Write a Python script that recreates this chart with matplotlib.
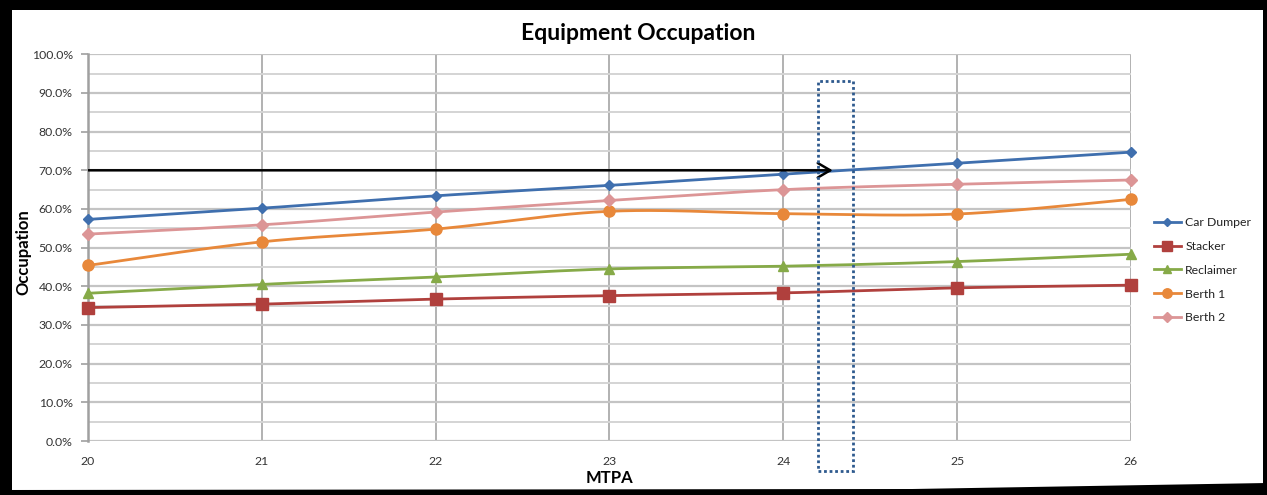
import numpy as np
import matplotlib
matplotlib.use("Agg")
import matplotlib.pyplot as plt
from matplotlib.patches import Rectangle, FancyArrowPatch, Polygon
from matplotlib.lines import Line2D
from matplotlib.ticker import MultipleLocator, FuncFormatter

plt.rcParams['font.family'] = ['Lato', 'DejaVu Sans']

# MTPA throughput levels and occupation (%) for each piece of equipment
mtpa = [20, 21, 22, 23, 24, 25, 26]
car_dumper = [57.3, 60.2, 63.4, 66.1, 69.0, 71.8, 74.7]
stacker = [34.5, 35.4, 36.7, 37.6, 38.3, 39.6, 40.3]
reclaimer = [38.2, 40.5, 42.4, 44.5, 45.2, 46.4, 48.3]
berth_1 = [45.4, 51.5, 54.8, 59.4, 58.8, 58.7, 62.5]
berth_2 = [53.5, 55.9, 59.2, 62.2, 65.0, 66.4, 67.5]

series_names = ["Car Dumper", "Stacker", "Reclaimer", "Berth 1", "Berth 2"]
series_values = [car_dumper, stacker, reclaimer, berth_1, berth_2]
colors = ["#3F6FAE", "#B0403D", "#86AA48", "#E8883A", "#DC9596"]
markers = ["D", "s", "^", "o", "D"]
marker_sizes = [5, 8, 7, 8, 6]

target_level = 70.0
highlight_x = (24.2, 24.4)
highlight_y = (-7.8, 93.2)


def smooth_curve(x, y, n=40, tension=0.5):
    """Cardinal-spline curve through the points (Excel-style smoothed line)."""
    x = np.asarray(x, float)
    y = np.asarray(y, float)
    px = np.concatenate([[x[0]], x, [x[-1]]])
    py = np.concatenate([[y[0]], y, [y[-1]]])
    xs, ys = [], []
    t = np.linspace(0, 1, n)
    for i in range(1, len(px) - 2):
        p0x, p1x, p2x, p3x = px[i - 1], px[i], px[i + 1], px[i + 2]
        p0y, p1y, p2y, p3y = py[i - 1], py[i], py[i + 1], py[i + 2]
        m1x, m1y = tension * (p2x - p0x), tension * (p2y - p0y)
        m2x, m2y = tension * (p3x - p1x), tension * (p3y - p1y)
        h00 = 2 * t**3 - 3 * t**2 + 1
        h10 = t**3 - 2 * t**2 + t
        h01 = -2 * t**3 + 3 * t**2
        h11 = t**3 - t**2
        xs.append(h00 * p1x + h10 * m1x + h01 * p2x + h11 * m2x)
        ys.append(h00 * p1y + h10 * m1y + h01 * p2y + h11 * m2y)
    return np.concatenate(xs), np.concatenate(ys)


W, H = 1267, 495
fig = plt.figure(figsize=(W / 100, H / 100), dpi=100)
fig.patch.set_facecolor("white")
ax = fig.add_axes([88 / W, 1 - 441 / H, (1131 - 88) / W, (441 - 54.3) / H])

ax.set_xlim(20, 26)
ax.set_ylim(0, 100)

# grid
ax.yaxis.set_major_locator(MultipleLocator(10))
ax.yaxis.set_minor_locator(MultipleLocator(5))
ax.xaxis.set_major_locator(MultipleLocator(1))
ax.grid(which="major", axis="y", color="#C4C4C4", linewidth=1.6, zorder=0)
ax.grid(which="minor", axis="y", color="#D4D4D4", linewidth=1.4, zorder=0)
ax.grid(which="major", axis="x", color="#A4A4A4", linewidth=1.2, zorder=0)
ax.set_axisbelow(True)

for side in ["top", "right", "bottom"]:
    ax.spines[side].set_visible(False)
ax.spines["left"].set_color("#A0A0A0")
ax.spines["left"].set_linewidth(1.8)

ax.yaxis.set_major_formatter(FuncFormatter(lambda v, p: f"{v:.1f}%"))
ax.tick_params(axis="y", which="major", length=5, color="#A0A0A0", width=1.2,
               labelsize=8.8, labelcolor="#333333", pad=6)
ax.tick_params(axis="y", which="minor", length=0)
ax.tick_params(axis="x", length=0, labelsize=8.8, labelcolor="#333333", pad=11)

for name, vals, c, m, ms in zip(series_names, series_values, colors, markers, marker_sizes):
    sx, sy = smooth_curve(mtpa, vals)
    ax.plot(sx, sy, color=c, linewidth=2.0, zorder=3, solid_capstyle="round")
    ax.plot(mtpa, vals, linestyle="none", marker=m, markersize=ms, color=c,
            markeredgecolor=c, zorder=4, clip_on=False)

# 70% target arrow
ax.add_patch(FancyArrowPatch((19.98, target_level), (24.3, target_level),
                             arrowstyle="->,head_length=6,head_width=3.5",
                             color="black", linewidth=1.8, zorder=5,
                             mutation_scale=1.5))

# highlighted region around the 70% crossing
ax.add_patch(Rectangle((highlight_x[0], highlight_y[0]), highlight_x[1] - highlight_x[0],
                       highlight_y[1] - highlight_y[0], fill=False,
                       edgecolor="#2E5A8E", linestyle=(0, (1, 1)), linewidth=2.0,
                       clip_on=False, zorder=6))

fig.text(638 / W, 1 - 33 / H, "Equipment Occupation", fontsize=16.5, fontweight="bold",
         ha="center", va="center")
fig.text(609 / W, 1 - 478 / H, "MTPA", fontsize=12, fontweight="bold",
         ha="center", va="center")
fig.text(23 / W, 1 - 252 / H, "Occupation", fontsize=12, fontweight="bold",
         ha="center", va="center", rotation=90)

handles = [Line2D([0], [0], color=c, marker=m, markersize=ms * 0.85, linewidth=2.0)
           for c, m, ms in zip(colors, markers, marker_sizes)]
fig.legend(handles, series_names, loc="upper left", bbox_to_anchor=(1143 / W, 1 - 206 / H),
           frameon=False, fontsize=8.8, handlelength=2.2, labelspacing=1.05,
           handletextpad=0.35, labelcolor="#222222")

# black outer frame
fig.patches.append(Rectangle((0, 1 - 10 / H), 1, 10 / H, transform=fig.transFigure,
                             facecolor="black", edgecolor="none"))
fig.patches.append(Rectangle((0, 0), 12 / W, 1, transform=fig.transFigure,
                             facecolor="black", edgecolor="none"))
fig.patches.append(Polygon([(0, 0), (1, 0), (1, 12 / H), (0.72, 6 / H), (0, 5 / H)],
                           closed=True, transform=fig.transFigure,
                           facecolor="black", edgecolor="none"))
fig.patches.append(Rectangle((1 - 4 / W, 0), 4 / W, 1, transform=fig.transFigure,
                             facecolor="black", edgecolor="none"))

fig.savefig("out.png", dpi=100)
